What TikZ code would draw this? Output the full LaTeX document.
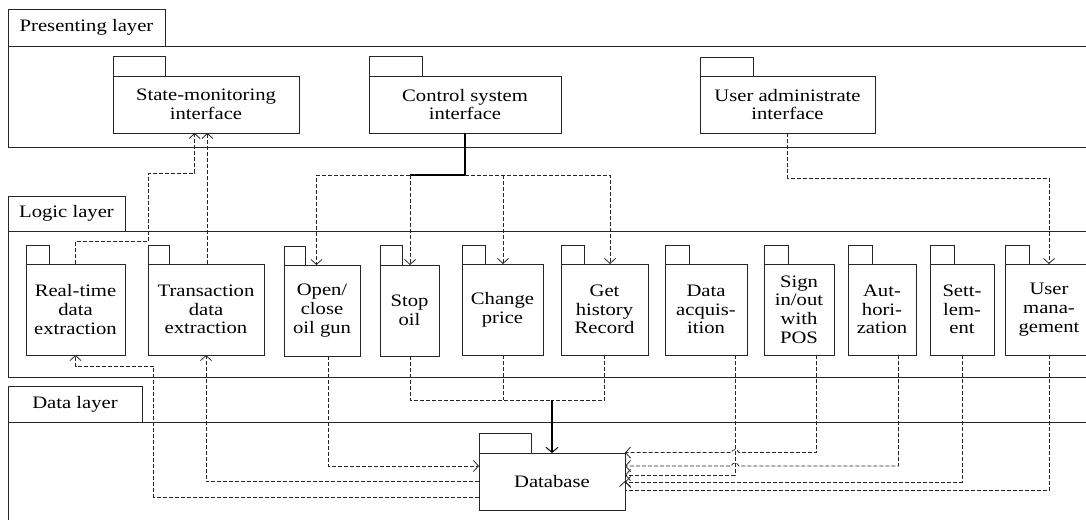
\documentclass[tikz,border=0pt]{standalone}
\usepackage{fontspec}
\setmainfont[FakeStretch=1.18]{Liberation Serif}
\usetikzlibrary{arrows.meta}
\tikzset{
  x=1pt,y=-1pt,
  box/.style={draw=black!85,line width=0.9pt,fill=white,anchor=north west,inner sep=0pt,outer sep=0pt,align=center,font=\fontsize{17.5}{18.7}\selectfont},
  dep/.style={draw=black!85,line width=0.75pt,dash pattern=on 4pt off 2pt,-{Straight Barb[length=5pt,width=11pt,line width=0.8pt]}},
  depline/.style={draw=black!85,line width=0.75pt,dash pattern=on 4pt off 2pt},
  trunk/.style={draw=black,line width=1.1pt},
}
\newcommand{\pkg}[8]{%
  \node[box,minimum width=#3pt-#2pt,minimum height=#5pt-#4pt] (#1tab) at (#2,#4) {};
  \node[box,minimum width=#6pt-#2pt,minimum height=#7pt-#5pt] (#1) at (#2,#5) {#8};
}
\begin{document}
\begin{tikzpicture}
\useasboundingbox (0,0) rectangle (1086,519);
\clip (0,0) rectangle (1086,519);
\fill[white] (0,0) rectangle (1086,519);
% layers
\node[box,minimum width=157pt,minimum height=37pt] (ptab) at (8,9) {Presenting layer};
\node[box,minimum width=1100pt,minimum height=101pt] (pbody) at (8,46) {};
\node[box,minimum width=117pt,minimum height=35pt] (ltab) at (8,196) {Logic layer};
\node[box,minimum width=1100pt,minimum height=146pt] (lbody) at (8,231) {};
\node[box,minimum width=134pt,minimum height=36pt] (dtab) at (8,386) {Data layer};
\node[box,minimum width=1100pt,minimum height=140pt] (dbody) at (8,422) {};
% packages
\pkg{state}{113}{165}{56}{76}{299}{133}{State-monitoring\\interface}
\pkg{ctrl}{369}{422}{56}{76}{561}{133}{Control system\\interface}
\pkg{uadm}{700}{753}{57}{76}{875}{133}{User administrate\\interface}
\pkg{real}{26}{49}{245}{264}{125}{355}{Real-time\\data\\extraction}
\pkg{trans}{148}{169}{245}{264}{264}{355}{Transaction\\data\\extraction}
\pkg{open}{284}{305}{246}{265}{360}{356}{Open/\\close\\oil gun}
\pkg{stop}{380}{402}{245}{265}{439}{356}{Stop\\oil}
\pkg{chg}{462}{485}{245}{264}{543}{355}{Change\\price}
\pkg{hist}{561}{584}{245}{264}{648}{355}{Get\\history\\Record}
\pkg{acq}{665}{689}{245}{264}{747}{355}{Data\\acquis-\\ition}
\pkg{sign}{764}{788}{245}{264}{834}{355}{Sign\\in/out\\with\\POS}
\pkg{auth}{848}{872}{245}{264}{916}{355}{Aut-\\hori-\\zation}
\pkg{sett}{930}{954}{245}{264}{994}{355}{Sett-\\lem-\\ent}
\pkg{user}{1005}{1029}{245}{264}{1093}{355}{User\\mana-\\gement}
\pkg{db}{479}{531}{433}{453}{625}{510}{Database}
% junction coordinates
\coordinate (top) at (465,175);
\coordinate (bot) at (552,400);
% control system
\draw[trunk] (top |- ctrl.south) -- (top) -- (410,175);
\draw[dep] (410,175) -- (316.5,175) -- (316.5,0 |- open.north);
\draw[dep] (410,175) -- (410,0 |- stop.north);
\draw[dep] (top) -- (610,175) -- (610,0 |- hist.north);
\draw[dep] (503,175) -- (503,0 |- chg.north);
% user admin
\draw[dep] (uadm.south) |- (1049,178) -- (1049,0 |- user.north);
% upward
\draw[dep] (75.5,0 |- real.north) -- (75.5,241) -- (148,241) -- (148,173) -- (194.6,173) -- (194.6,0 |- state.south);
\draw[dep] (207.4,0 |- trans.north) -- (207.4,0 |- state.south);
% lower-left
\draw[dep] (db.west |- 0,497) -- (153.7,497) -- (153.7,366) -- (75.5,366) -- (75.5,0 |- real.south);
\draw[dep] (db.west |- 0,481.7) -- (206,481.7) -- (206,0 |- trans.south);
\draw[dep] (328,0 |- open.south) |- (db.west |- 0,466);
% bus to database
\draw[depline] (410,0 |- stop.south) |- (bot);
\draw[depline] (503,0 |- chg.south) -- (503,400);
\draw[depline] (604.6,0 |- hist.south) |- (bot);
\draw[trunk,-{Straight Barb[length=5pt,width=12pt,line width=1pt]}] (bot) -- (bot |- db.north);
% right side
\draw[dep] (735,0 |- acq.south) -- (735,475) -- (db.east |- 0,475);
\draw[dep] (816.5,0 |- sign.south) -- (816.5,452.6) -- (739,452.6) .. controls (737,448.6) and (733,448.6) .. (731,452.6) -- (db.east |- 0,452.6);
\draw[dep] (898.4,0 |- auth.south) -- (898.4,466) -- (739,466) .. controls (737,462) and (733,462) .. (731,466) -- (db.east |- 0,466);
\draw[dep] (962,0 |- sett.south) -- (962,482) -- (db.east |- 0,482);
\draw[dep] (1049,0 |- user.south) -- (1049,490.5) -- (db.east |- 0,490.5) -- (db.east |- 0,481);
\end{tikzpicture}
\end{document}
